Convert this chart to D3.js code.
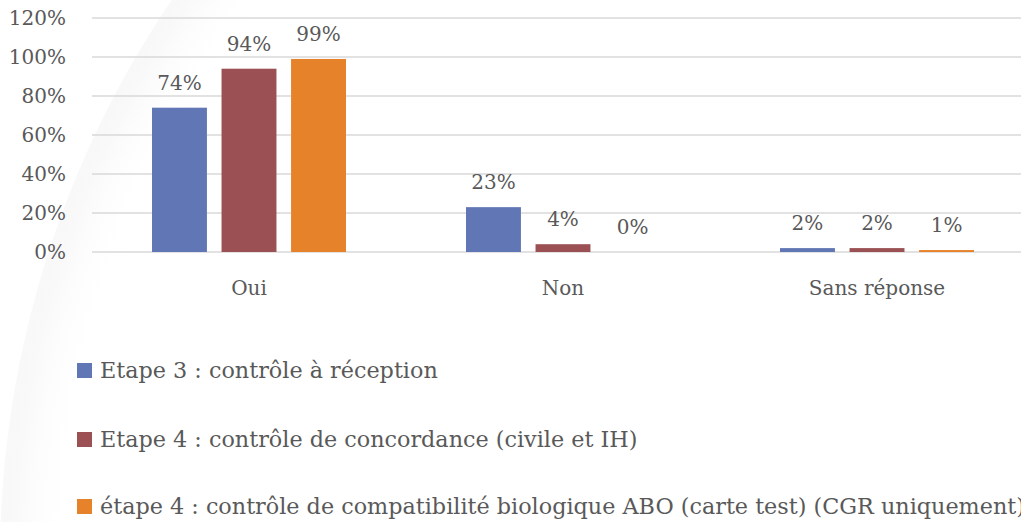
<!DOCTYPE html>
<html>
<head>
<meta charset="utf-8">
<script src="https://cdn.jsdelivr.net/npm/d3@7"></script>
<style>
  html, body { margin: 0; padding: 0; background: #fff; }
  svg { display: block; }
  text { font-family: "DejaVu Serif", serif; fill: #595959; }
</style>
</head>
<body>
<div id="chart"></div>
<script>
var categories = ["Oui", "Non", "Sans réponse"];
var seriesNames = [
  "Etape 3 : contrôle à réception",
  "Etape 4 : contrôle de concordance (civile et IH)",
  "étape 4 : contrôle de compatibilité biologique ABO (carte test) (CGR uniquement)"
];
var seriesValues = [
  [74, 23, 2],
  [94, 4, 2],
  [99, 0, 1]
];
var yTicks = [0, 20, 40, 60, 80, 100, 120];
var colors = ["#6176b4", "#9b5053", "#e6832a"];

var width = 1021, height = 522;
var plotLeft = 92, plotRight = 1034, plotTop = 18, plotBottom = 252;

var svg = d3.select("#chart").append("svg")
  .attr("width", width)
  .attr("height", height);

// faint slide background on the left
var defs = svg.append("defs");
var grad = defs.append("radialGradient").attr("id", "bgGrad")
  .attr("cx", "0.5").attr("cy", "0.5").attr("r", "0.5");
grad.append("stop").attr("offset", "0.93").attr("stop-color", "#fff").attr("stop-opacity", 0);
grad.append("stop").attr("offset", "0.985").attr("stop-color", "#eeeeee").attr("stop-opacity", 0.35);
grad.append("stop").attr("offset", "1").attr("stop-color", "#f4f4f4").attr("stop-opacity", 0.6);
svg.append("rect").attr("width", width).attr("height", height).attr("fill", "#fff");
svg.append("circle")
  .attr("cx", 1000).attr("cy", 560).attr("r", 1000)
  .attr("fill", "url(#bgGrad)");

var y = d3.scaleLinear().domain([0, 120]).range([plotBottom, plotTop]);
var x0 = d3.scaleBand().domain(categories).range([plotLeft, plotRight]);
var x1 = d3.scaleBand().domain(d3.range(seriesNames.length))
  .range([60, x0.bandwidth() - 60]).paddingInner(0.21);

// gridlines
svg.append("g").selectAll("line")
  .data(yTicks)
  .join("line")
  .attr("x1", plotLeft).attr("x2", width)
  .attr("y1", function (d) { return y(d); })
  .attr("y2", function (d) { return y(d); })
  .attr("stroke", "#d9d9d9")
  .attr("stroke-width", 1.5);

// y tick labels
svg.append("g").selectAll("text")
  .data(yTicks)
  .join("text")
  .attr("x", 66)
  .attr("y", function (d) { return y(d) + 7; })
  .attr("text-anchor", "end")
  .style("font-size", "20px")
  .text(function (d) { return d + "%"; });

// bars
var groups = svg.append("g").selectAll("g")
  .data(categories)
  .join("g")
  .attr("transform", function (d) { return "translate(" + x0(d) + ",0)"; });

groups.selectAll("rect")
  .data(function (d, ci) {
    return seriesValues.map(function (vals, si) { return { s: si, v: vals[ci] }; });
  })
  .join("rect")
  .attr("x", function (d) { return x1(d.s); })
  .attr("width", x1.bandwidth())
  .attr("y", function (d) { return y(d.v); })
  .attr("height", function (d) { return plotBottom - y(d.v); })
  .attr("fill", function (d) { return colors[d.s]; });

groups.selectAll("text")
  .data(function (d, ci) {
    return seriesValues.map(function (vals, si) { return { s: si, v: vals[ci] }; });
  })
  .join("text")
  .attr("x", function (d) { return x1(d.s) + x1.bandwidth() / 2; })
  .attr("y", function (d) { return y(d.v) - 18; })
  .attr("text-anchor", "middle")
  .style("font-size", "20px")
  .text(function (d) { return d.v + "%"; });

// category labels
svg.append("g").selectAll("text")
  .data(categories)
  .join("text")
  .attr("x", function (d) { return x0(d) + x0.bandwidth() / 2; })
  .attr("y", 295)
  .attr("text-anchor", "middle")
  .style("font-size", "20px")
  .text(function (d) { return d; });

// legend
var legendY = [378, 447, 514];
var legend = svg.append("g").selectAll("g")
  .data(seriesNames)
  .join("g")
  .attr("transform", function (d, i) { return "translate(77," + legendY[i] + ")"; });
legend.append("rect")
  .attr("x", 0).attr("y", -15)
  .attr("width", 15).attr("height", 15)
  .attr("fill", function (d, i) { return colors[i]; });
legend.append("text")
  .attr("x", 23).attr("y", 0)
  .style("font-size", "22.3px")
  .text(function (d) { return d; });
</script>
</body>
</html>
